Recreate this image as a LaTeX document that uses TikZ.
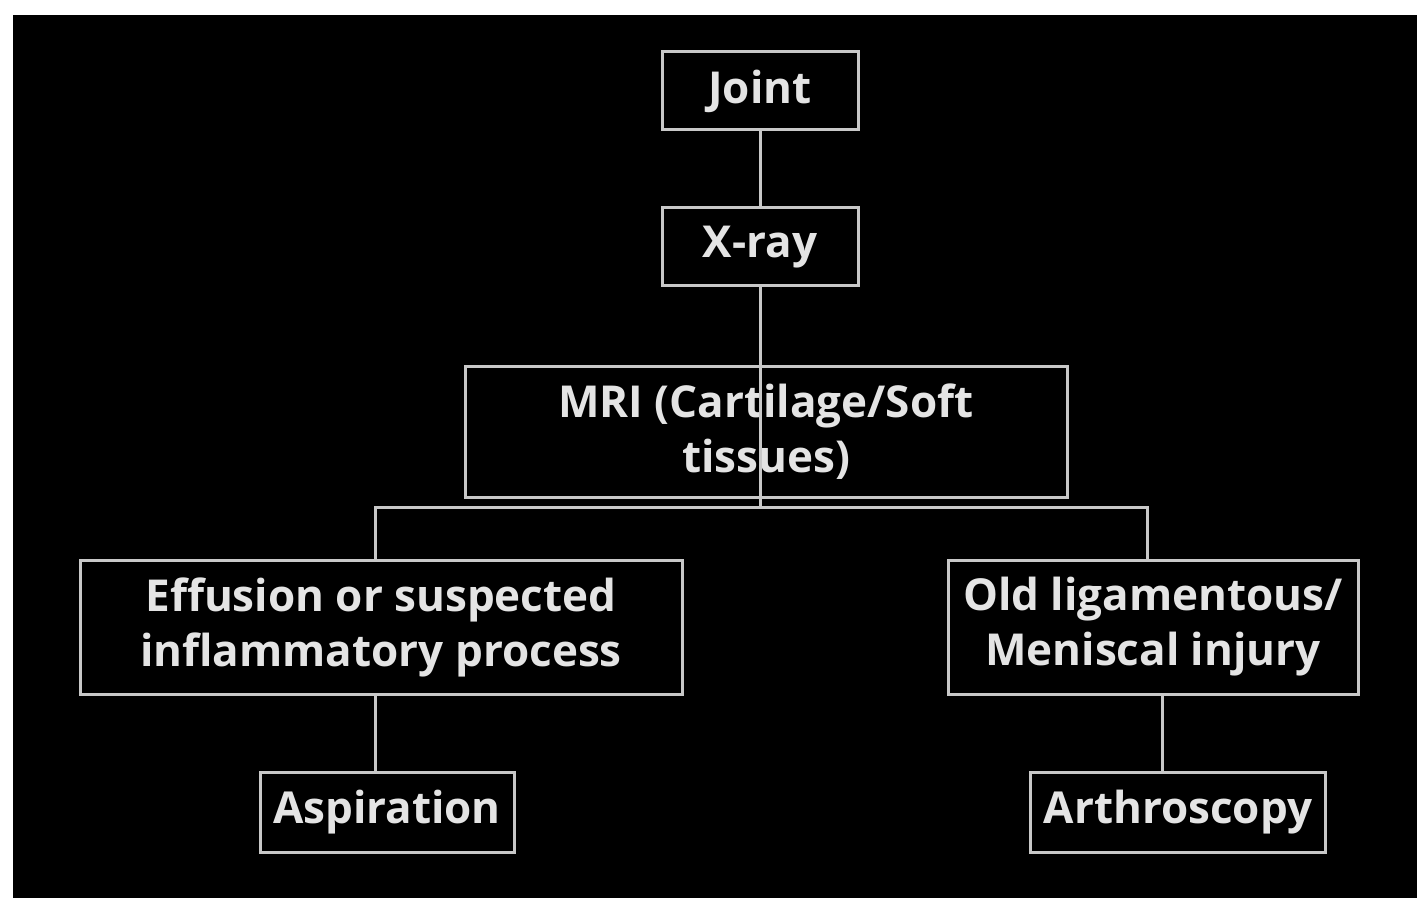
\documentclass[tikz,border=0pt]{standalone}
\usepackage{fontspec}
\setmainfont{Open Sans}
\usetikzlibrary{positioning}
\definecolor{boxline}{RGB}{200,200,200}
\definecolor{boxtext}{RGB}{228,228,228}

\begin{document}
\begin{tikzpicture}[x=0.5pt, y=-0.5pt,
    stepbox/.style={draw=boxline, line width=1.5pt, text=boxtext, inner sep=0pt,
      align=center, font=\fontsize{22}{27.5}\selectfont\bfseries},
    link/.style={draw=boxline, line width=1.5pt}]
    % Background
    \fill[white] (0,0) rectangle (1417,898);
    \fill[black] (13,15) rectangle (1417,898);
    \useasboundingbox (0,0) rectangle (1417,898);

    % Boxes
    \node[stepbox, minimum width=98pt, minimum height=39pt] (joint) at (760,91) {Joint};
    \node[stepbox, minimum width=98pt, minimum height=39pt] (xray) at (760,247) {X-ray};
    \node[stepbox, minimum width=301pt, minimum height=65.5pt] (mri) at (766,432) {MRI (Cartilage/Soft\\tissues)};
    \node[stepbox, minimum width=301pt, minimum height=67pt] (effusion) at (381,627) {Effusion or suspected\\inflammatory process};
    \node[stepbox, minimum width=205pt, minimum height=67pt] (injury) at (1153,627) {Old ligamentous/\\Meniscal injury};
    \node[stepbox, minimum width=127pt, minimum height=40pt] (aspiration) at (387,812) {Aspiration};
    \node[stepbox, minimum width=147.5pt, minimum height=40pt] (arthroscopy) at (1178,812) {Arthroscopy};

    % Branch points
    \coordinate (split) at (760,507);
    \coordinate (splitL) at (375,507);
    \coordinate (splitR) at (1147,507);
    \coordinate (dropR) at (1162,740);

    % Connectors
    \draw[link] (joint) -- (xray);
    \draw[link] (xray.south) -- (split);
    \draw[link] (effusion.north -| splitL) -- (splitL) -- (splitR) -- (injury.north -| splitR);
    \draw[link] (effusion.south -| splitL) -- (aspiration.north -| splitL);
    \draw[link] (injury.south -| dropR) -- (arthroscopy.north -| dropR);
\end{tikzpicture}
\end{document}
